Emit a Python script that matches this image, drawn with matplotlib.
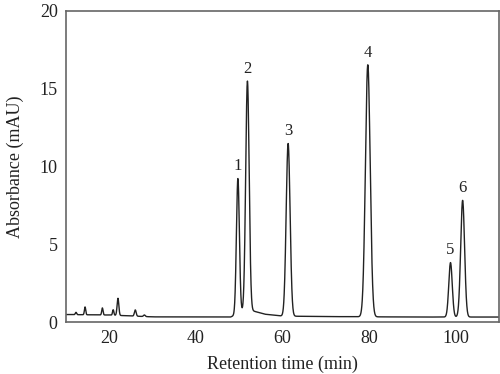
import numpy as np
import matplotlib
matplotlib.use("Agg")
import matplotlib.pyplot as plt

# Peak parameters (retention time, height above baseline, width sigma)
peak_centers = [49.7, 51.9, 61.3, 79.7, 98.8, 101.6]
peak_heights = [8.7, 14.7, 11.1, 16.2, 3.5, 7.5]
peak_sigmas  = [0.34, 0.40, 0.45, 0.55, 0.40, 0.45]
peak_labels  = ["1", "2", "3", "4", "5", "6"]

small_centers = [12.3, 14.4, 18.4, 20.9, 22.0, 26.0, 28.1]
small_heights = [0.15, 0.5, 0.45, 0.35, 1.1, 0.4, 0.1]
small_sigmas  = [0.15, 0.15, 0.15, 0.15, 0.2, 0.2, 0.2]

baseline_x = [10, 20, 30, 48, 52, 56, 60, 70, 90, 110]
baseline_y = [0.48, 0.45, 0.33, 0.32, 0.8, 0.5, 0.38, 0.35, 0.32, 0.32]

t = np.linspace(10, 110, 4000)
signal = np.interp(t, baseline_x, baseline_y)
for c, h, s in zip(peak_centers + small_centers, peak_heights + small_heights,
                   peak_sigmas + small_sigmas):
    signal = signal + h * np.exp(-0.5 * ((t - c) / s) ** 2)

plt.rcParams['font.family'] = ['Liberation Serif', 'DejaVu Serif']

fig = plt.figure(figsize=(5, 3.74), dpi=100)
ax = fig.add_axes([0.132, 0.139, 0.866, 0.832])
ax.plot(t, signal, color='#222222', lw=1.0)

for c, h, lab, s in zip(peak_centers, peak_heights, peak_labels, peak_sigmas):
    top = np.interp(c, t, signal)
    ax.annotate(lab, (c, top), xytext=(0, 3), textcoords='offset points',
                ha='center', va='bottom', fontsize=12, color='#222222')

ax.set_xlim(10, 110)
ax.set_ylim(0, 20)
ax.set_xticks([20, 40, 60, 80, 100])
ax.set_yticks([0, 5, 10, 15, 20])
ax.tick_params(length=0, labelsize=13, colors='#222222', pad=6)
for sp in ax.spines.values():
    sp.set_color('#666666')
    sp.set_linewidth(1.2)
ax.set_xlabel('Retention time (min)', fontsize=13, color='#222222', labelpad=6)
ax.set_ylabel('Absorbance (mAU)', fontsize=13, color='#222222', labelpad=11)

fig.savefig('out.png', dpi=100)
